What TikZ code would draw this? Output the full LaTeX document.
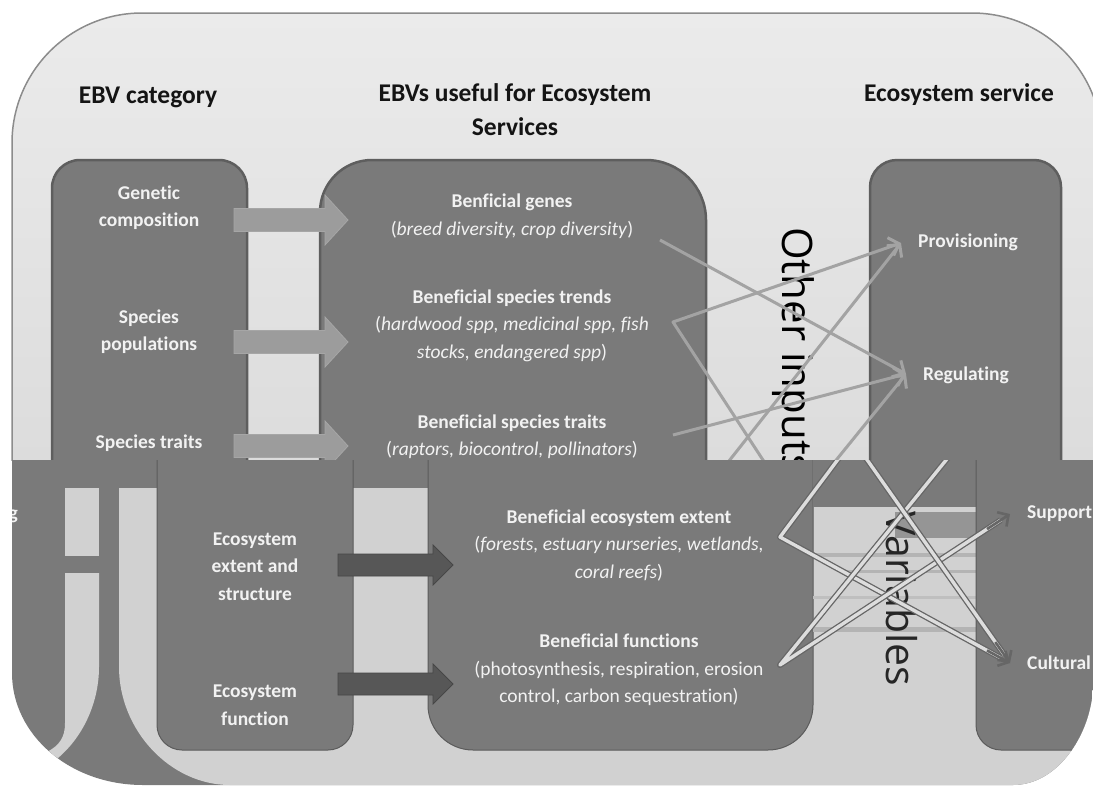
\documentclass[tikz,border=0pt]{standalone}
\usepackage{fontspec}
\setmainfont{Carlito}[Ligatures=NoCommon]
\newfontfamily\osans{Open Sans}
\usetikzlibrary{arrows.meta,calc}
\definecolor{boxgray}{HTML}{7A7A7A}
\definecolor{boxedge}{HTML}{5E5E5E}
\definecolor{bgtop}{HTML}{EBEBEB}
\definecolor{bgbot}{HTML}{D0D0D0}
\definecolor{outline}{HTML}{8C8C8C}
\definecolor{lightarr}{HTML}{9C9C9C}
\definecolor{darkarr}{HTML}{575757}
\definecolor{linegray}{HTML}{A3A3A3}
\definecolor{stripc}{HTML}{D1D1D1}
\definecolor{stripmid}{HTML}{B4B4B4}
\definecolor{boxtext}{HTML}{F2F2F2}
\definecolor{staredge}{HTML}{666666}
\definecolor{starcore}{HTML}{DDDDDD}
\begin{document}
\begin{tikzpicture}[x=1pt,y=-1pt,
  hdr/.style={inner sep=0pt, align=center, text=black!92, font=\fontsize{25.5}{34}\selectfont\bfseries},
  boxtxt/.style={inner sep=0pt, align=center, text=boxtext, font=\fontsize{19.5}{27.5}\selectfont},
  boxbold/.style={inner sep=0pt, align=center, text=boxtext, font=\fontsize{19.5}{27.5}\selectfont\bfseries},
  ebox/.style={fill=boxgray, draw=boxedge, line width=2.5pt},
  bbox/.style={fill=boxgray, draw=boxgray!75!black, line width=1pt},
  conn/.style={draw=linegray, line width=3pt, line join=round, -{Straight Barb[length=9pt,width=19pt]}},
  star/.style={draw=staredge, double=starcore, double distance=3.4pt, line width=1.3pt, line join=round},
  startip/.style={draw=staredge, line width=2.6pt, -{Straight Barb[length=8pt,width=17pt]}},
  lightarrow/.pic={\path[fill=lightarr, draw=gray!70, line width=0.8pt] (0,-11.5) -- (91,-11.5) -- (91,-25) -- (114,0) -- (91,25) -- (91,11.5) -- (0,11.5) -- cycle;},
  darkarrow/.pic={\path[fill=darkarr, draw=darkarr!80!black, line width=0.8pt] (0,-11) -- (95,-11) -- (95,-20) -- (115,0) -- (95,20) -- (95,11) -- (0,11) -- cycle;}
]
\useasboundingbox (0,0) rectangle (1093,785);
\fill[white] (0,0) rectangle (1093,785);

% ---------------- upper part ----------------
\begin{scope}
\clip (0,0) rectangle (1093,460);
\path[draw=outline, line width=1.5pt, top color=bgtop, bottom color=bgbot, rounded corners=130pt]
  (12,820) -- (12,13) -- (1102,13) -- (1102,820);
% boxes
\path[ebox, rounded corners=28pt] (52,520) -- (52,160) -- (247,160) -- (247,520);
\path[ebox] (320,520) -- (320,212) .. controls (320,183.3) and (343.3,160) .. (372,160)
  -- (646,160) .. controls (679.1,160) and (706,186.9) .. (706,220) -- (706,520);
\path[ebox, rounded corners=27pt] (870,520) -- (870,160) -- (1061,160) -- (1061,520);
% block arrows
\pic (arrA) at (234,220) {lightarrow};
\pic (arrB) at (234,342) {lightarrow};
\pic (arrC) at (234,446) {lightarrow};
% headers
\node[hdr] (hcat) at (148,97) {EBV category};
\node[hdr] (hebv) at (515,110) {EBVs useful for Ecosystem\\Services};
\node[hdr] (hes) at (959,95) {Ecosystem service};
% left box
\node[boxbold] (gen) at (149,207.5) {Genetic\\composition};
\node[boxbold] (spp) at (149,331.5) {Species\\populations};
\node[boxbold] (spt) at (149,443) {Species traits};
% middle box
\node[boxtxt] (bg) at (512,216) {\textbf{Benficial genes}\\(\textit{breed diversity, crop diversity})};
\node[boxtxt] (bst) at (512,325.5) {\textbf{Beneficial species trends}\\(\textit{hardwood spp, medicinal spp, fish}\\\textit{stocks, endangered spp})};
\node[boxtxt] (bstr) at (512,436.5) {\textbf{Beneficial species traits}\\(\textit{raptors, biocontrol, pollinators})};
% right box
\node[boxbold] (prov) at (968,242) {Provisioning};
\node[boxbold] (reg) at (966,375) {Regulating};
% other inputs
\node[rotate=-90, inner sep=0pt, text=black, font=\osans\fontsize{42}{42}\selectfont] (oi) at (793,351) {Other inputs};
% connectors
\coordinate (pA) at (660,240);
\coordinate (regtip) at (906,374);
\coordinate (provtip) at (901,243);
\coordinate (vB) at (673,322);
\coordinate (endB) at (776,480);
\coordinate (startC) at (714,480);
\coordinate (vD) at (673,435);
\coordinate (startE) at (820,480);
\draw[conn] (pA) -- (regtip);
\draw[conn] (endB) -- (vB) -- (provtip);
\draw[conn] (startC) -- (provtip);
\draw[conn] (vD) -- (regtip);
\draw[conn] (startE) -- (regtip);
\end{scope}

% ---------------- lower part ----------------
\begin{scope}
\clip (12,460) -- (12,673) .. controls (12,735) and (70,785) .. (143,785) -- (1013,785)
  .. controls (1060,785) and (1093,730) .. (1093,683) -- (1093,460) -- cycle;
\fill[boxgray] (0,455) rectangle (1100,790);
% light strips
\fill[stripc] (65,488) rectangle (99,556);
\fill[stripc] (65,573) -- (65,723) .. controls (65,737) and (60,745) .. (47,752) -- (58,758)
  .. controls (85,735) and (99,700) .. (99,667) -- (99,573) -- cycle;
\fill[stripc] (119,487) -- (1100,487) -- (1100,790) -- (230,790) -- (230,785)
  .. controls (170,785) and (119,730) .. (119,667) -- cycle;
\fill[boxgray] (99,455) rectangle (1100,487.5);
% boxes
\path[bbox, rounded corners=25pt] (157,450) -- (157,750) -- (353,750) -- (353,450);
\path[bbox, rounded corners=45pt] (428,450) -- (428,750) -- (813,750) -- (813,450);
\fill[boxgray] (813,455) rectangle (976,507);
\fill[boxgray!80] (895,512) rectangle (976,538);
\fill[stripmid] (813,553) rectangle (976,557);
\fill[stripmid] (840,570) rectangle (976,573);
\fill[stripmid!85] (813,596) rectangle (976,599);
\fill[stripmid] (813,627) rectangle (976,632);
\path[bbox, rounded corners=25pt] (976,450) -- (976,750) -- (1110,750) -- (1110,450);
% dark block arrows
\pic (darkA) at (338,565) {darkarrow};
\pic (darkB) at (338,684) {darkarrow};
% texts
\node[boxbold, anchor=base east] (gfrag) at (18,519) {g};
\node[boxbold] (eext) at (255,566.5) {Ecosystem\\extent and\\structure};
\node[boxbold] (efun) at (255,705) {Ecosystem\\function};
\node[boxtxt] (bee) at (619,545.5) {\textbf{Beneficial ecosystem extent}\\(\textit{forests, estuary nurseries, wetlands,}\\\textit{coral reefs})};
\node[boxtxt] (bfn) at (619,670) {\textbf{Beneficial functions}\\(photosynthesis, respiration, erosion\\control, carbon sequestration)};
\node[boxbold, anchor=west] (sup) at (1027,514) {Support};
\node[boxbold, anchor=west] (cul) at (1027,663) {Cultural};
\node[rotate=-90, inner sep=0pt, text=black!85, font=\osans\fontsize{41}{41}\selectfont] (var) at (902,599) {Variables};
% star of connectors
\coordinate (s1) at (780,537);
\coordinate (s2) at (842,454);
\coordinate (s3) at (780,665);
\coordinate (la) at (863,454);
\coordinate (lb) at (951,454);
\coordinate (suptip) at (1010,514);
\coordinate (cultip) at (1010,663);
\draw[star] (s2) -- (s1) -- ($(s1)!0.96!(cultip)$);
\draw[star] (lb) -- (s3) -- ($(s3)!0.96!(suptip)$);
\draw[star] (la) -- ($(la)!0.96!(cultip)$);
\draw[startip] ($(s1)!0.9!(cultip)$) -- (cultip);
\draw[startip] ($(la)!0.9!(cultip)$) -- (cultip);
\draw[startip] ($(s3)!0.9!(suptip)$) -- (suptip);
\end{scope}
\end{tikzpicture}
\end{document}
